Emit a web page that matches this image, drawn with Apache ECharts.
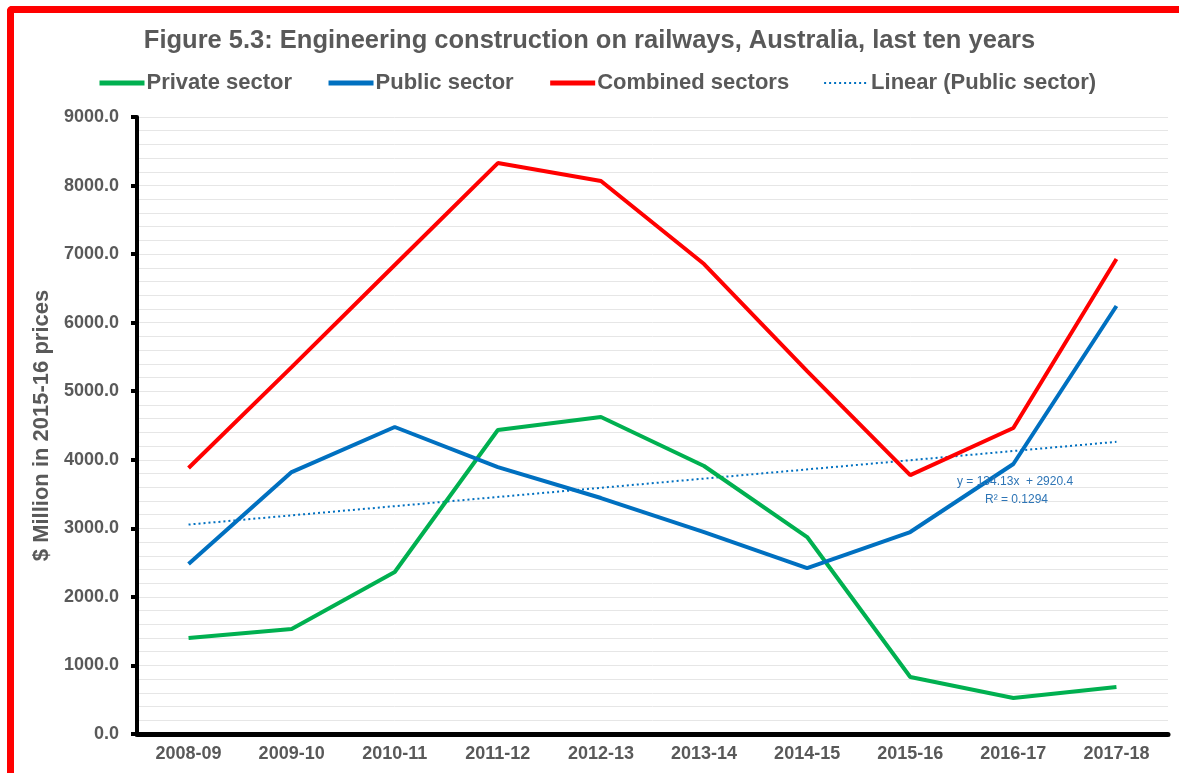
<!DOCTYPE html>
<html>
<head>
<meta charset="utf-8">
<script src="https://cdn.jsdelivr.net/npm/echarts@6/dist/echarts.min.js"></script>
<style>
  html, body { margin: 0; padding: 0; background: #fff; }
  #chart { position: absolute; left: 0; top: 0; width: 1179px; height: 773px; }
  #frame {
    position: absolute; left: 7px; top: 6px; width: 1172px; height: 767px;
    border-left: 7px solid #ff0000; border-top: 7px solid #ff0000;
    border-top-left-radius: 5px; box-sizing: border-box; pointer-events: none;
  }
</style>
</head>
<body>
<div id="chart"></div>
<div id="frame"></div>
<script>
const years = ['2008-09', '2009-10', '2010-11', '2011-12', '2012-13', '2013-14', '2014-15', '2015-16', '2016-17', '2017-18']
const privateSector = [1400, 1531, 2363, 4434, 4624, 3909, 2873, 831, 525, 686]
const publicSector = [2480, 3821, 4478, 3894, 3442, 2946, 2421, 2946, 3938, 6243]
const combinedSectors = [3880, 5352, 6841, 8328, 8066, 6855, 5294, 3777, 4463, 6929]
// trendline as drawn (ends only), Excel linear fit of public sector
const linearPublic = [3055, null, null, null, null, null, null, null, null, 4262]
const trendLabel = ['y = 134.13x  + 2920.4', 'R\u00b2 = 0.1294']

const grey = '#595959'
const font = 'Liberation Sans'

const chart = echarts.init(document.getElementById('chart'))

chart.setOption({
  animation: false,
  textStyle: { fontFamily: font },
  title: {
    text: 'Figure 5.3: Engineering construction on railways, Australia, last ten years',
    left: 'center',
    top: 23,
    textStyle: { fontSize: 25.5, fontWeight: 'bold', color: grey, fontFamily: font }
  },
  legend: {
    top: 67,
    left: 92,
    itemWidth: 45,
    itemHeight: 14,
    itemGap: 34,
    itemStyle: { opacity: 0 },
    textStyle: { fontSize: 22, fontWeight: 'bold', color: grey, padding: [0, 0, 0, -3] },
    data: [
      { name: 'Private sector', lineStyle: { width: 5 } },
      { name: 'Public sector', lineStyle: { width: 5 } },
      { name: 'Combined sectors', lineStyle: { width: 5 } },
      { name: 'Linear (Public sector)', lineStyle: { width: 2 } }
    ]
  },
  grid: {
    left: 137,
    right: 11,
    top: 117,
    bottom: 39
  },
  xAxis: {
    type: 'category',
    data: years,
    boundaryGap: true,
    axisLine: { lineStyle: { color: '#000', width: 5 } },
    axisTick: { show: false },
    axisLabel: { fontSize: 18, fontWeight: 'bold', color: grey, margin: 11 }
  },
  yAxis: {
    type: 'value',
    min: 0,
    max: 9000,
    interval: 1000,
    name: '$ Million in 2015-16 prices',
    nameLocation: 'middle',
    nameGap: 82,
    nameTextStyle: { fontSize: 22, fontWeight: 'bold', color: grey },
    axisLine: { show: true, lineStyle: { color: '#000', width: 4 } },
    axisTick: { show: true, length: 6, lineStyle: { color: '#000', width: 4 } },
    axisLabel: {
      fontSize: 18, fontWeight: 'bold', color: grey, margin: 18,
      formatter: v => v.toFixed(1)
    },
    splitLine: { lineStyle: { color: '#e6e6e6', width: 1 } },
    minorTick: { show: false, splitNumber: 5 },
    minorSplitLine: { show: true, lineStyle: { color: '#e6e6e6', width: 1 } }
  },
  graphic: [
    {
      type: 'text', left: 957, top: 476, z: 10,
      style: { text: trendLabel[0], fontSize: 12, fill: '#2e75b6', fontFamily: font }
    },
    {
      type: 'text', left: 985, top: 494, z: 10,
      style: { text: trendLabel[1], fontSize: 12, fill: '#2e75b6', fontFamily: font }
    }
  ],
  series: [
    {
      name: 'Private sector',
      type: 'line',
      data: privateSector,
      symbol: 'none',
      color: '#00b050',
      lineStyle: { width: 4, color: '#00b050' }
    },
    {
      name: 'Public sector',
      type: 'line',
      data: publicSector,
      symbol: 'none',
      color: '#0070c0',
      lineStyle: { width: 4, color: '#0070c0' }
    },
    {
      name: 'Combined sectors',
      type: 'line',
      data: combinedSectors,
      symbol: 'none',
      color: '#ff0000',
      lineStyle: { width: 4, color: '#ff0000' }
    },
    {
      name: 'Linear (Public sector)',
      type: 'line',
      data: linearPublic,
      connectNulls: true,
      symbol: 'none',
      color: '#0070c0',
      z: 1,
      lineStyle: { width: 2, color: '#0070c0', type: [2, 3] }
    }
  ]
})
</script>
</body>
</html>
